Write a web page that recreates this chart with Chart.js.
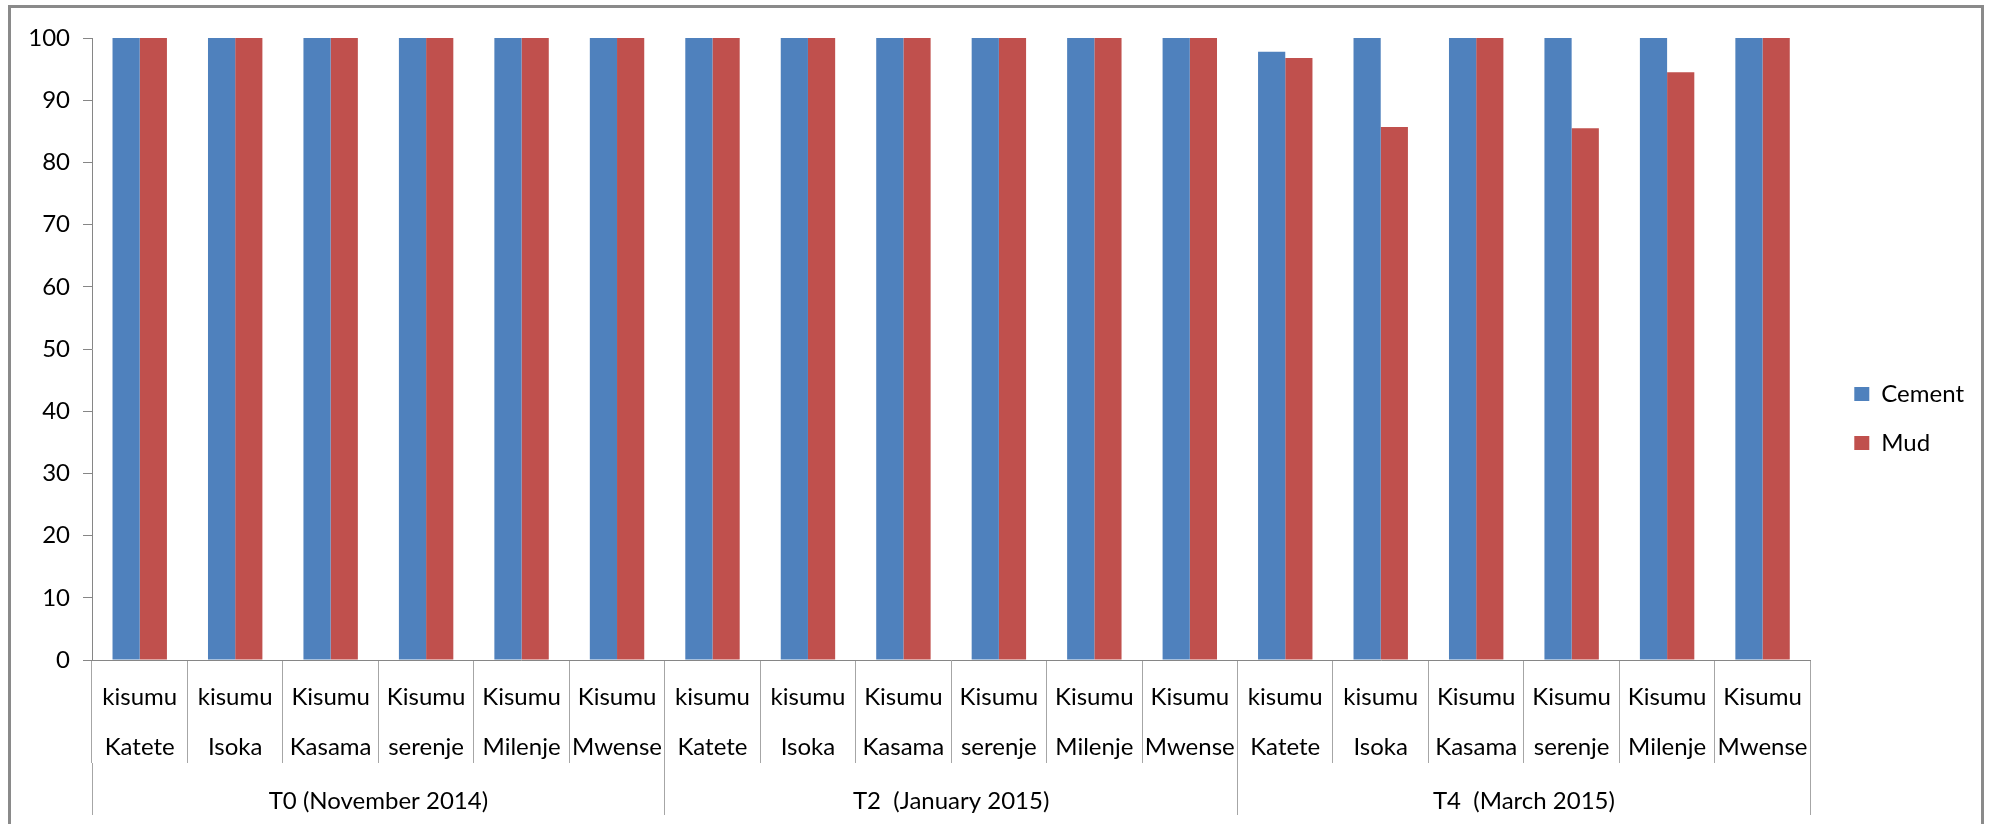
<!DOCTYPE html>
<html>
<head>
<meta charset="utf-8">
<script src="https://cdn.jsdelivr.net/npm/chart.js@4/dist/chart.umd.min.js"></script>
<style>
  body { margin: 0; background: #fff; }
  #wrap { position: relative; width: 1994px; height: 824px; }
  #frame { position: absolute; left: 8px; top: 5px; width: 1976px; height: 840px;
           border: 3px solid #8a8a8a; box-sizing: border-box; pointer-events: none; }
</style>
</head>
<body>
<div id="wrap">
  <canvas id="myChart"></canvas>
  <div id="frame"></div>
</div>
<script>
// category labels (two lines each) and period groups
var sites = [
    ['kisumu', 'Katete'], ['kisumu', 'Isoka'], ['Kisumu', 'Kasama'],
    ['Kisumu', 'serenje'], ['Kisumu', 'Milenje'], ['Kisumu', 'Mwense'],
    ['kisumu', 'Katete'], ['kisumu', 'Isoka'], ['Kisumu', 'Kasama'],
    ['Kisumu', 'serenje'], ['Kisumu', 'Milenje'], ['Kisumu', 'Mwense'],
    ['kisumu', 'Katete'], ['kisumu', 'Isoka'], ['Kisumu', 'Kasama'],
    ['Kisumu', 'serenje'], ['Kisumu', 'Milenje'], ['Kisumu', 'Mwense']
];
var periods = ['T0 (November 2014)', 'T2  (January 2015)', 'T4  (March 2015)'];

// series values (%)
var cement = [100, 100, 100, 100, 100, 100,
              100, 100, 100, 100, 100, 100,
              97.8, 100, 100, 100, 100, 100];
var mud = [100, 100, 100, 100, 100, 100,
           100, 100, 100, 100, 100, 100,
           96.8, 85.7, 100, 85.5, 94.5, 100];

var yTicks = { min: 0, max: 100, step: 10 };

Chart.defaults.font.family = 'Lato';
Chart.defaults.color = '#000';

var ctx = document.getElementById('myChart').getContext('2d');
new Chart(ctx, {
    type: 'bar',
    data: {
        labels: sites,
        datasets: [{
            label: 'Cement',
            data: cement,
            backgroundColor: '#4F81BD',
            categoryPercentage: 0.57,
            barPercentage: 1
        }, {
            label: 'Mud',
            data: mud,
            backgroundColor: '#C0504D',
            categoryPercentage: 0.57,
            barPercentage: 1
        }]
    },
    options: {
        responsive: true,
        maintainAspectRatio: false,
        animation: false,
        layout: { padding: { left: 28, top: 38, right: 20, bottom: 9 } },
        plugins: {
            tooltip: { enabled: false },
            legend: {
                position: 'right',
                align: 'start',
                // empty title only pushes the items down
                title: { display: true, text: '', font: { size: 10, lineHeight: 1 }, padding: { top: 309, bottom: 0 } },
                labels: {
                    boxWidth: 15,
                    boxHeight: 14,
                    padding: 25,
                    font: { size: 24 },
                    color: '#000'
                }
            }
        },
        scales: {
            x: {
                offset: true,
                grid: { offset: true, drawOnChartArea: false, tickLength: 103, color: '#a6a6a6' },
                border: { display: true, color: '#868686' },
                ticks: {
                    autoSkip: false, maxRotation: 0, padding: -91,
                    font: { size: 24, lineHeight: 2.1 }
                },
                afterFit: function (scale) { scale.height = 103; }
            },
            x2: {
                type: 'category',
                labels: periods,
                position: 'bottom',
                weight: 1,
                offset: true,
                grid: { offset: true, drawOnChartArea: false, tickLength: 52, color: '#a6a6a6' },
                border: { display: false },
                ticks: { autoSkip: false, maxRotation: 0, padding: -28, font: { size: 24, lineHeight: 1.2 } },
                afterFit: function (scale) { scale.height = 52; }
            },
            y: {
                min: yTicks.min,
                max: yTicks.max,
                grid: { drawOnChartArea: false, tickLength: 9, color: '#868686' },
                border: { display: true, color: '#868686' },
                ticks: { stepSize: yTicks.step, padding: 13, font: { size: 24 } },
                afterFit: function (scale) { scale.width = 64; }
            },
            // empty gap between plot and legend
            gap: {
                type: 'linear',
                position: 'right',
                grid: { display: false },
                border: { display: false },
                ticks: { display: false },
                afterFit: function (scale) { scale.width = 19; }
            }
        }
    }
});
</script>
</body>
</html>
